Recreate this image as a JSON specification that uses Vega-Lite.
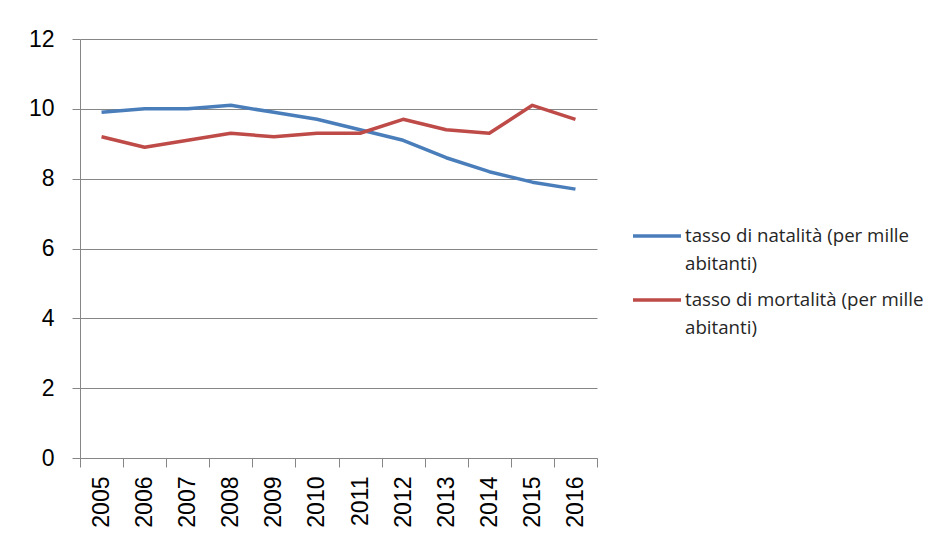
{
  "$schema": "https://vega.github.io/schema/vega-lite/v6.json",
  "width": 517,
  "height": 419,
  "autosize": {"type": "none"},
  "padding": {"left": 80, "top": 39, "right": 340, "bottom": 86},
  "background": "white",
  "data": {
    "values": [
      {"anno": "2005", "serie": "tasso di natalità (per mille abitanti)", "valore": 9.9},
      {"anno": "2006", "serie": "tasso di natalità (per mille abitanti)", "valore": 10.0},
      {"anno": "2007", "serie": "tasso di natalità (per mille abitanti)", "valore": 10.0},
      {"anno": "2008", "serie": "tasso di natalità (per mille abitanti)", "valore": 10.1},
      {"anno": "2009", "serie": "tasso di natalità (per mille abitanti)", "valore": 9.9},
      {"anno": "2010", "serie": "tasso di natalità (per mille abitanti)", "valore": 9.7},
      {"anno": "2011", "serie": "tasso di natalità (per mille abitanti)", "valore": 9.4},
      {"anno": "2012", "serie": "tasso di natalità (per mille abitanti)", "valore": 9.1},
      {"anno": "2013", "serie": "tasso di natalità (per mille abitanti)", "valore": 8.6},
      {"anno": "2014", "serie": "tasso di natalità (per mille abitanti)", "valore": 8.2},
      {"anno": "2015", "serie": "tasso di natalità (per mille abitanti)", "valore": 7.9},
      {"anno": "2016", "serie": "tasso di natalità (per mille abitanti)", "valore": 7.7},
      {"anno": "2005", "serie": "tasso di mortalità (per mille abitanti)", "valore": 9.2},
      {"anno": "2006", "serie": "tasso di mortalità (per mille abitanti)", "valore": 8.9},
      {"anno": "2007", "serie": "tasso di mortalità (per mille abitanti)", "valore": 9.1},
      {"anno": "2008", "serie": "tasso di mortalità (per mille abitanti)", "valore": 9.3},
      {"anno": "2009", "serie": "tasso di mortalità (per mille abitanti)", "valore": 9.2},
      {"anno": "2010", "serie": "tasso di mortalità (per mille abitanti)", "valore": 9.3},
      {"anno": "2011", "serie": "tasso di mortalità (per mille abitanti)", "valore": 9.3},
      {"anno": "2012", "serie": "tasso di mortalità (per mille abitanti)", "valore": 9.7},
      {"anno": "2013", "serie": "tasso di mortalità (per mille abitanti)", "valore": 9.4},
      {"anno": "2014", "serie": "tasso di mortalità (per mille abitanti)", "valore": 9.3},
      {"anno": "2015", "serie": "tasso di mortalità (per mille abitanti)", "valore": 10.1},
      {"anno": "2016", "serie": "tasso di mortalità (per mille abitanti)", "valore": 9.7}
    ]
  },
  "mark": {"type": "line", "strokeWidth": 3.5, "strokeJoin": "round"},
  "encoding": {
    "x": {
      "field": "anno",
      "type": "ordinal",
      "scale": {"type": "band", "paddingInner": 0, "paddingOuter": 0},
      "axis": {
        "title": null,
        "labelAngle": -90,
        "labelFont": "Liberation Sans",
        "labelFontSize": 23,
        "labelColor": "#000000",
        "labelPadding": 9,
        "tickSize": 9,
        "tickBand": "extent",
        "tickColor": "#868686",
        "domainColor": "#868686",
        "grid": false
      }
    },
    "y": {
      "field": "valore",
      "type": "quantitative",
      "scale": {"domain": [0, 12], "nice": false},
      "axis": {
        "title": null,
        "values": [0, 2, 4, 6, 8, 10, 12],
        "labelFont": "Liberation Sans",
        "labelFontSize": 23,
        "labelColor": "#000000",
        "labelPadding": 18,
        "tickSize": 8,
        "tickColor": "#868686",
        "domainColor": "#868686",
        "grid": true,
        "gridColor": "#868686"
      }
    },
    "color": {
      "field": "serie",
      "type": "nominal",
      "scale": {
        "domain": ["tasso di natalità (per mille abitanti)", "tasso di mortalità (per mille abitanti)"],
        "range": ["#4A7EBB", "#BE4B48"]
      },
      "legend": {
        "title": null,
        "orient": "none",
        "legendX": 551,
        "legendY": 171,
        "padding": 0,
        "symbolType": "stroke",
        "symbolSize": 2304,
        "symbolStrokeWidth": 3.5,
        "labelFont": "Open Sans",
        "labelFontSize": 18.7,
        "labelColor": "#262626",
        "labelLimit": 300,
        "labelOffset": 2,
        "rowPadding": -2,
        "labelExpr": "[slice(datum.label, 0, indexof(datum.label, ' abitanti')), 'abitanti)']"
      }
    }
  },
  "config": {
    "view": {"stroke": null},
    "style": {"guide-label": {"lineHeight": 28}}
  }
}
